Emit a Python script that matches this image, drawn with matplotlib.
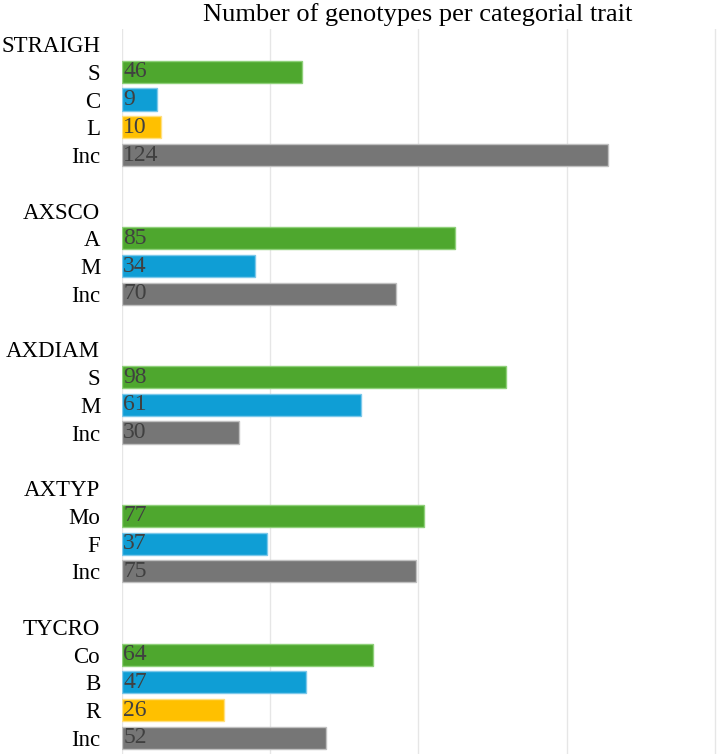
import matplotlib.pyplot as plt
import numpy as np

# groups and their categories (top to bottom)
groups = ["STRAIGH", "AXSCO", "AXDIAM", "AXTYP", "TYCRO"]
cats = [
    ["S", "C", "L", "Inc"],
    ["A", "M", "Inc"],
    ["S", "M", "Inc"],
    ["Mo", "F", "Inc"],
    ["Co", "B", "R", "Inc"],
]
counts = [
    [46, 9, 10, 124],
    [85, 34, 70],
    [98, 61, 30],
    [77, 37, 75],
    [64, 47, 26, 52],
]

green = "#4ea72e"
blue = "#0f9ed5"
yellow = "#ffc000"
grey = "#767676"
edge = {green: "#8fd07a", blue: "#7cc8ea", yellow: "#ffe080", grey: "#c0c0c0"}

def colors_for(labels):
    cols = [green, blue, yellow][:len(labels) - 1] + [grey]
    return cols

plt.rcParams['font.family'] = ['Liberation Serif', 'DejaVu Serif']

fig = plt.figure(figsize=(7.17, 7.54), dpi=100)
ax = fig.add_axes([121.7 / 717, 0, 1 - 121.7 / 717, 1 - 29 / 754])

row = 0
ylabels = []
yticks = []
for g, labs, vals in zip(groups, cats, counts):
    yticks.append(row)
    ylabels.append(g)
    row += 1
    for lab, v, c in zip(labs, vals, colors_for(labs)):
        ax.barh(row, v, height=0.8, color=c, edgecolor=edge[c], linewidth=1, zorder=2)
        ax.text(0.4, row, str(v), ha="left", va="center", fontsize=17,
                color="#404040", zorder=3)
        yticks.append(row)
        ylabels.append(lab)
        row += 1
    row += 1

nrows = row - 1
ax.set_ylim(nrows - 1 + 0.58, -0.54)
ax.set_xlim(0, 151.8)
step = 151.35 / 4
ax.set_xticks(np.arange(5) * step)
ax.set_xticklabels([])
ax.tick_params(axis="x", length=0)
ax.grid(axis="x", color="#e6e6e6", linewidth=1, zorder=0)
ax.set_yticks(yticks)
ax.set_yticklabels(ylabels, fontsize=16.5)
ax.tick_params(axis="y", length=0, pad=15.5)
for s in ax.spines.values():
    s.set_visible(False)

fig.text(418 / 717, 1 - 15 / 754, "Number of genotypes per categorial trait",
         ha="center", va="center", fontsize=19)

fig.savefig("out.png", dpi=100)
